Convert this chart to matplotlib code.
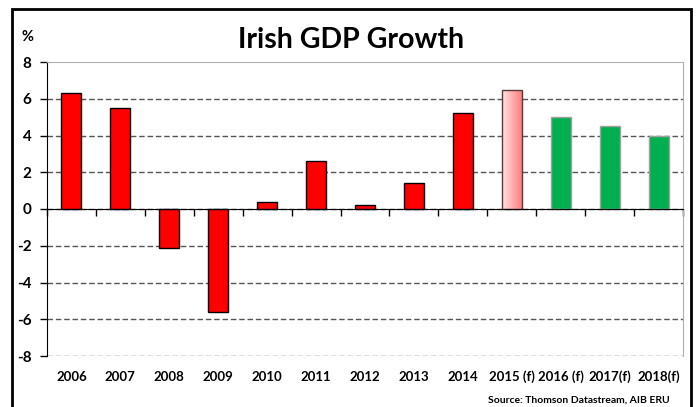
import matplotlib.pyplot as plt
import numpy as np
from matplotlib.colors import LinearSegmentedColormap
from matplotlib.patches import Rectangle
import matplotlib.transforms as mtransforms

years = ["2006", "2007", "2008", "2009", "2010", "2011", "2012", "2013",
         "2014", "2015 (f)", "2016 (f)", "2017(f)", "2018(f)"]
growth = [6.3, 5.5, -2.1, -5.6, 0.4, 2.6, 0.2, 1.4, 5.2, 6.5, 5.0, 4.5, 4.0]
kind = ["actual"] * 9 + ["estimate"] + ["forecast"] * 3
y_ticks = [-8, -6, -4, -2, 0, 2, 4, 6, 8]

plt.rcParams['font.family'] = ['Lato', 'DejaVu Sans']
plt.rcParams['font.weight'] = 'bold'

W, H = 696, 407
fig = plt.figure(figsize=(W / 100, H / 100), dpi=100)
ax = fig.add_axes([47 / W, (H - 356) / H, (683 - 47) / W, (356 - 62) / H])

x = np.arange(len(years))
face = []
edge = []
for k in kind:
    if k == "actual":
        face.append("#ff0000"); edge.append("black")
    elif k == "estimate":
        face.append("none"); edge.append("#5a3a3a")
    else:
        face.append("#00b050"); edge.append("#a0a0a0")

bars = ax.bar(x, growth, width=0.41, color=face, edgecolor=edge, linewidth=1, zorder=3)

# gradient fill for the 2015 estimate
cmap = LinearSegmentedColormap.from_list("pinks", ["#ffe2e2", "#ff7a7a"])
grad = np.linspace(0, 1, 64).reshape(1, -1)
for b, k in zip(bars, kind):
    if k == "estimate":
        x0 = b.get_x()
        im = ax.imshow(grad, extent=[x0, x0 + b.get_width(), 0, b.get_height()],
                       aspect="auto", cmap=cmap, zorder=2.9)
        im.set_clip_path(b)

ax.set_xlim(-0.5, len(years) - 0.5)
ax.set_ylim(-8, 8)

# grid
for v in y_ticks:
    if v == 8:
        continue
    ax.axhline(v, color="#555555", lw=1, ls=(0, (4, 2)), zorder=1)

ax.spines['top'].set_color("#b0b0b0")
ax.spines['right'].set_color("#b0b0b0")
ax.spines['left'].set_color("black")
ax.spines['bottom'].set_position(('data', 0))
ax.spines['bottom'].set_color("black")
ax.spines['bottom'].set_zorder(4)

ax.set_yticks(y_ticks)
ax.set_yticklabels([str(v) for v in y_ticks])
ax.tick_params(axis='y', length=5, width=1, direction='out', labelsize=11, pad=6)
ax.set_xticks(np.arange(len(years) + 1) - 0.5)
ax.set_xticklabels([])
ax.tick_params(axis='x', length=5, width=1, direction='out')

trans = mtransforms.blended_transform_factory(ax.transData, fig.transFigure)
for xi, lab in zip(x, years):
    ax.text(xi, 1 - 377 / H, lab, transform=trans, ha='center', va='center',
            fontsize=9.5, fontweight='bold')

fig.text(351 / W, 1 - 40 / H, "Irish GDP Growth", ha='center', va='center',
         fontsize=20.5, fontweight='bold')
fig.text(27 / W, 1 - 37 / H, "%", ha='center', va='center', fontsize=10.5,
         fontweight='bold')
fig.text(670 / W, 1 - 400 / H, "Source: Thomson Datastream, AIB ERU", ha='right',
         va='center', fontsize=7.5, fontweight='bold')

# outer frame
fig.patches.append(Rectangle((12 / W, -0.05), (691 - 12) / W, 1.05 - 9 / H,
                             transform=fig.transFigure, fill=False,
                             edgecolor='black', lw=2))

fig.savefig("out.png", dpi=100)
